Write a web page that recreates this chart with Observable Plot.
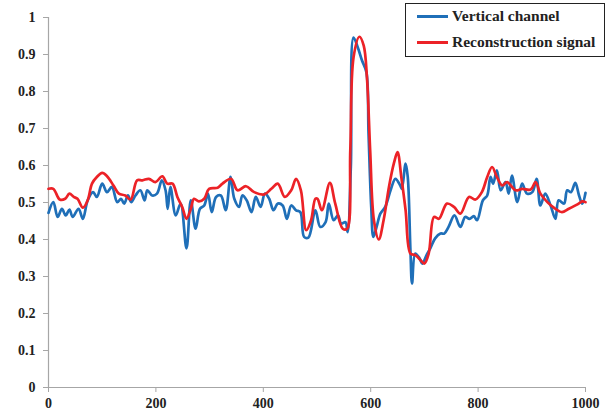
<!DOCTYPE html>
<html>
<head>
<meta charset="utf-8">
<script src="https://cdn.jsdelivr.net/npm/d3@7"></script>
<script src="https://cdn.jsdelivr.net/npm/@observablehq/plot@0.6"></script>
<style>
  body { margin: 0; background: #fff; }
  #wrap { position: relative; width: 615px; height: 416px; }
  #chart svg text { font-family: "Liberation Serif", "Times New Roman", serif !important; font-weight: bold; font-size: 14px; }
  #legend {
    position: absolute; left: 405px; top: 3px; width: 200px; height: 54px;
    border: 1px solid #222; background: #fff; box-sizing: border-box;
    font-family: "Liberation Serif", "Times New Roman", serif; font-weight: bold; font-size: 15.5px; color: #222;
  }
  .item { position: absolute; left: 11px; display: flex; align-items: center; }
  .sw { width: 31px; height: 3px; margin-right: 4px; }
</style>
</head>
<body>
<div id="wrap">
  <div id="chart"></div>
  <div id="legend"></div>
</div>
<script>
const seriesNames = ["Vertical channel", "Reconstruction signal"];
const seriesColors = ["#1f6fb8", "#ec2227"];

const verticalX = [0,9,17,25,32,39,45,56,64,73,83,90,100,109,118,128,135,141,148,154,162,171,179,184,193,202,211,218,222,227,237,246,257,265,274,282,290,297,304,312,321,330,339,346,355,361,369,378,386,395,403,411,419,427,436,444,452,461,469,476,484,497,506,516,522,531,539,545,553,557,563,568,576,584,592,596,601,605,611,618,627,637,646,655,658,665,669,674,677,683,691,696,704,711,720,730,737,745,756,767,776,784,792,798,809,817,823,828,835,842,851,857,863,873,882,891,901,909,916,925,935,944,950,960,966,973,981,988,994,1000];
const verticalY = [0.472,0.501,0.461,0.483,0.465,0.481,0.461,0.483,0.456,0.506,0.528,0.515,0.551,0.528,0.542,0.501,0.510,0.497,0.519,0.501,0.519,0.533,0.506,0.533,0.519,0.524,0.560,0.533,0.483,0.542,0.465,0.497,0.376,0.506,0.429,0.483,0.492,0.524,0.474,0.515,0.519,0.479,0.569,0.510,0.488,0.519,0.506,0.474,0.515,0.488,0.524,0.510,0.479,0.497,0.492,0.456,0.492,0.479,0.474,0.407,0.405,0.479,0.434,0.447,0.497,0.452,0.465,0.443,0.447,0.420,0.596,0.946,0.919,0.883,0.852,0.686,0.488,0.407,0.434,0.470,0.488,0.533,0.564,0.546,0.537,0.605,0.569,0.371,0.281,0.362,0.349,0.335,0.358,0.376,0.403,0.416,0.416,0.434,0.465,0.434,0.461,0.456,0.463,0.452,0.506,0.519,0.569,0.551,0.587,0.533,0.555,0.524,0.573,0.501,0.551,0.524,0.528,0.564,0.492,0.524,0.492,0.456,0.506,0.497,0.533,0.528,0.553,0.519,0.497,0.526];

const reconX = [0,9,21,31,39,47,54,64,73,81,90,100,109,121,131,143,153,165,175,187,199,212,221,231,240,249,257,265,271,280,290,299,315,324,340,352,368,383,402,415,427,440,452,461,470,480,489,497,501,509,524,534,548,556,562,568,579,587,593,599,606,615,624,634,643,650,657,665,674,683,693,700,708,718,727,742,755,767,783,795,807,817,826,835,845,854,870,882,898,907,916,929,941,956,969,985,994,1000];
const reconY = [0.537,0.537,0.508,0.510,0.524,0.515,0.510,0.486,0.506,0.551,0.569,0.580,0.571,0.546,0.524,0.519,0.508,0.560,0.560,0.564,0.555,0.571,0.551,0.551,0.515,0.488,0.456,0.483,0.510,0.503,0.510,0.537,0.540,0.551,0.564,0.533,0.544,0.528,0.522,0.537,0.551,0.515,0.533,0.564,0.533,0.425,0.452,0.510,0.510,0.479,0.553,0.497,0.429,0.429,0.641,0.892,0.948,0.924,0.838,0.641,0.452,0.400,0.452,0.542,0.605,0.636,0.569,0.479,0.362,0.358,0.344,0.335,0.362,0.461,0.456,0.497,0.488,0.470,0.515,0.508,0.528,0.569,0.596,0.569,0.546,0.555,0.533,0.537,0.535,0.555,0.524,0.501,0.486,0.474,0.483,0.495,0.503,0.501];

const xTicks = [0, 200, 400, 600, 800, 1000];
const yTicks = [0, 0.1, 0.2, 0.3, 0.4, 0.5, 0.6, 0.7, 0.8, 0.9, 1];

const vertical = verticalX.map((x, i) => ({x, y: verticalY[i]}));
const recon = reconX.map((x, i) => ({x, y: reconY[i]}));
const axisColor = "#a6a6a6";
const font = {fontFamily: "Liberation Serif", fontSize: 14, fontWeight: "bold"};

const chart = Plot.plot({
  width: 615,
  height: 416,
  marginLeft: 48,
  marginRight: 30,
  marginTop: 17,
  marginBottom: 29,
  style: {background: "#fff", color: "#222"},
  x: {domain: [0, 1000]},
  y: {domain: [0, 1]},
  marks: [
    Plot.axisX({ticks: xTicks, tickSize: 5, tickPadding: 6, stroke: axisColor, fill: "#222", tickFormat: d => String(d), label: null, ...font}),
    Plot.axisY({ticks: yTicks, tickSize: 5, tickPadding: 8, stroke: axisColor, fill: "#222", tickFormat: d => String(d), label: null, ...font}),
    Plot.ruleX([0], {stroke: axisColor, strokeWidth: 1.2}),
    Plot.ruleY([0], {stroke: axisColor, strokeWidth: 1.2}),
    Plot.line(vertical, {x: "x", y: "y", stroke: seriesColors[0], strokeWidth: 2.7, curve: "catmull-rom"}),
    Plot.line(recon, {x: "x", y: "y", stroke: seriesColors[1], strokeWidth: 2.7, curve: "catmull-rom"})
  ]
});
document.getElementById("chart").appendChild(chart);

const legend = document.getElementById("legend");
seriesNames.forEach((name, i) => {
  const item = document.createElement("div");
  item.className = "item";
  item.style.top = (i === 0 ? 3 : 29) + "px";
  const sw = document.createElement("div");
  sw.className = "sw";
  sw.style.background = seriesColors[i];
  const label = document.createElement("span");
  label.textContent = name;
  item.appendChild(sw);
  item.appendChild(label);
  legend.appendChild(item);
});
</script>
</body>
</html>
